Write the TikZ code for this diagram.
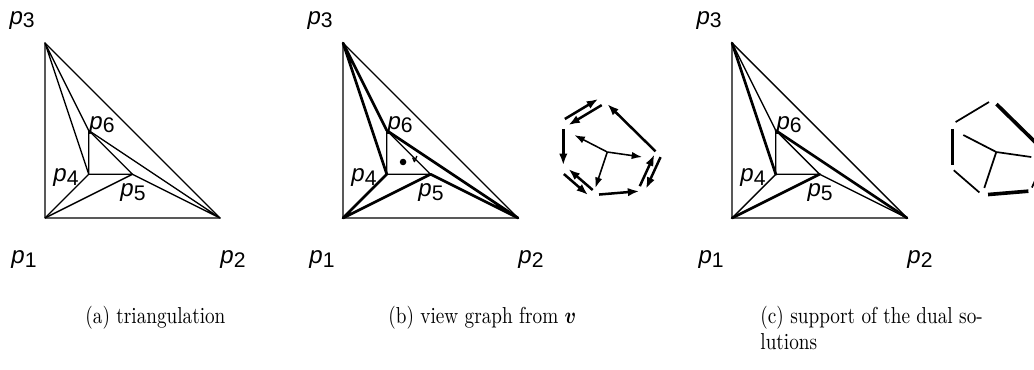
\documentclass[tikz,border=0pt]{standalone}
\usepackage{fontspec}
\usepackage{amsmath}
\usetikzlibrary{arrows.meta}

\newfontfamily\lblfont{Liberation Sans}

% etiqueta p_i en sans-serif
\newcommand{\plbl}[1]{{\lblfont\fontsize{12.5}{14}\selectfont\itshape p\raisebox{-2pt}{\fontsize{11}{12}\selectfont\upshape #1}}}
% texto de leyenda (algo estirado en vertical, como el original)
\newcommand{\leyendatxt}[1]{\scalebox{1}[1.2]{#1}}

\tikzset{
    fino/.style={line width=0.7pt, line join=round},
    grueso/.style={line width=1.4pt, line join=round, line cap=round},
    flecha/.style={line width=1.3pt, -{Latex[length=6pt,width=4.4pt]}},
    rayo/.style={line width=0.8pt, -{Latex[length=5.5pt,width=3.8pt]}},
    arista/.style={line width=0.9pt},
    aristag/.style={line width=1.9pt},
    punto/.style={circle, fill, inner sep=0pt, minimum size=3.4pt},
    etiqueta/.style={inner sep=0pt},
    leyenda/.style={anchor=north west, inner sep=0pt, align=left},
}

% puntos p1..p6 y sus etiquetas
\newcommand{\puntos}[1]{%
    \coordinate (#1p1) at (0,0);
    \coordinate (#1p2) at (1,0);
    \coordinate (#1p3) at (0,1);
    \coordinate (#1p4) at (0.25,0.25);
    \coordinate (#1p5) at (0.5,0.25);
    \coordinate (#1p6) at (0.25,0.5);
    \node[etiqueta] (#1l1) at (-0.12,-0.24) {\plbl{1}};
    \node[etiqueta] (#1l2) at (1.074,-0.24) {\plbl{2}};
    \node[etiqueta] (#1l3) at (-0.131,1.131) {\plbl{3}};
    \node[etiqueta] (#1l4) at (0.12,0.229) {\plbl{4}};
    \node[etiqueta] (#1l5) at (0.503,0.143) {\plbl{5}};
    \node[etiqueta] (#1l6) at (0.326,0.531) {\plbl{6}};
}

% nodos del grafo dual (unidades de pixel, centro en t)
\newcommand{\dual}[1]{%
    \coordinate (#1t) at (0,0);
    \coordinate (#1A) at (-4,52);
    \coordinate (#1B) at (-44,28);
    \coordinate (#1C) at (-44,-17);
    \coordinate (#1D) at (-14,-43);
    \coordinate (#1E) at (34,-39);
    \coordinate (#1F) at (51,-2);
    \coordinate (#1s1) at (-33,17);
    \coordinate (#1s2) at (35,-5);
    \coordinate (#1s3) at (-12,-36);
}

\begin{document}
\begin{tikzpicture}[x=3.2cm, y=3.2cm]
    % -----------------------------------------------------
    % 0) Marco de la figura
    % -----------------------------------------------------
    \clip (-0.2571,-0.8629) rectangle (5.6514,1.2457);

    % -----------------------------------------------------
    % 1) (a) triangulacion
    % -----------------------------------------------------
    \begin{scope}
        \puntos{a}
        \draw[fino] (ap1) -- (ap2) -- (ap3) -- cycle;
        \draw[fino] (ap3) -- (ap4) -- (ap6) -- cycle;
        \draw[fino] (ap4) -- (ap5) -- (ap6);
        \draw[fino] (ap1) -- (ap4);
        \draw[fino] (ap1) -- (ap5) -- (ap2) -- (ap6);
        \node[leyenda] (cap-a) at (0.229,-0.5) {\leyendatxt{(a) triangulation}};
    \end{scope}

    % -----------------------------------------------------
    % 2) (b) grafo de visibilidad desde v
    % -----------------------------------------------------
    \begin{scope}[shift={(1.703,0)}]
        \puntos{b}
        \draw[fino] (bp1) -- (bp2) -- (bp3) -- cycle;
        \draw[fino] (bp4) -- (bp6) -- (bp5) -- cycle;
        \draw[grueso] (bp6) -- (bp3) -- (bp4) -- (bp1) -- (bp5) -- (bp2) -- (bp6);
        \node[punto] (bv) at (0.343,0.32) {};
        \draw[fino] (0.398,0.345) -- (0.408,0.322) -- (0.422,0.354);

        % grafo dual con flechas
        \begin{scope}[shift={(1.51,0.377)}, x=0.018286cm, y=0.018286cm]
            \dual{b}
            \draw[rayo] (bt) -- (bs1);
            \draw[rayo] (bt) -- (bs2);
            \draw[rayo] (bt) -- (bs3);
            \draw[flecha, shorten <=2pt, shorten >=2pt, transform canvas={shift={(-0.9pt,1.6pt)}}] (bB) -- (bA);
            \draw[flecha, shorten <=2pt, shorten >=2pt, transform canvas={shift={(0.9pt,-1.6pt)}}] (bA) -- (bB);
            \draw[flecha, shorten <=2pt, shorten >=3pt] (bF) -- (bA);
            \draw[flecha, shorten <=2.5pt, shorten >=2pt] (bB) -- (bC);
            \draw[flecha, shorten <=2pt, shorten >=2pt, transform canvas={shift={(1.2pt,1.3pt)}}] (bD) -- (bC);
            \draw[flecha, shorten <=2pt, shorten >=2pt, transform canvas={shift={(-1.2pt,-1.3pt)}}] (bC) -- (bD);
            \draw[flecha, shorten <=3pt, shorten >=1pt] (bD) -- (bE);
            \draw[flecha, shorten <=2pt, shorten >=1pt, transform canvas={shift={(-1.6pt,0.7pt)}}] (bE) -- (bF);
            \draw[flecha, shorten <=1pt, shorten >=2pt, transform canvas={shift={(1.6pt,-0.7pt)}}] (bF) -- (bE);
        \end{scope}

        \node[leyenda] (cap-b) at (0.257,-0.5) {\leyendatxt{(b) view graph from $\boldsymbol{v}$}};
    \end{scope}

    % -----------------------------------------------------
    % 3) (c) soporte de las soluciones duales
    % -----------------------------------------------------
    \begin{scope}[shift={(3.926,0)}]
        \puntos{c}
        \draw[fino] (cp1) -- (cp2) -- (cp3) -- cycle;
        \draw[fino] (cp3) -- (cp6) -- (cp4) -- (cp5) -- (cp6);
        \draw[fino] (cp1) -- (cp4);
        \draw[fino] (cp5) -- (cp2);
        \draw[grueso] (cp3) -- (cp4);
        \draw[grueso] (cp1) -- (cp5);
        \draw[grueso] (cp6) -- (cp2);

        % grafo dual sin flechas
        \begin{scope}[shift={(1.51,0.377)}, x=0.018286cm, y=0.018286cm]
            \dual{c}
            \draw[arista] (ct) -- (cs1);
            \draw[arista] (ct) -- (cs2);
            \draw[arista] (ct) -- (cs3);
            \draw[arista, shorten <=2pt, shorten >=2pt] (cB) -- (cA);
            \draw[aristag, shorten <=2pt, shorten >=3pt] (cF) -- (cA);
            \draw[aristag, shorten <=2.5pt, shorten >=2pt] (cB) -- (cC);
            \draw[arista, shorten <=1pt, shorten >=2pt] (cC) -- (cD);
            \draw[aristag, shorten <=3pt, shorten >=1pt] (cD) -- (cE);
            \draw[arista, shorten <=2pt, shorten >=1pt] (cE) -- (cF);
        \end{scope}

        \node[leyenda] (cap-c) at (0.16,-0.5) {\leyendatxt{(c) support of the dual so-}\\[1.5pt]\leyendatxt{lutions}};
    \end{scope}
\end{tikzpicture}
\end{document}
